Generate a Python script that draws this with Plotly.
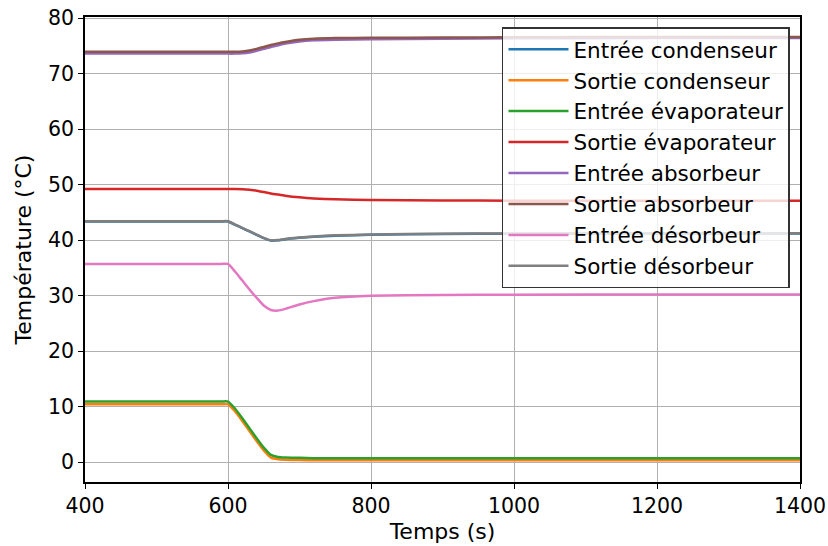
import plotly.graph_objects as go

t = [400, 500, 590, 600, 610, 620, 630, 640, 650, 660, 670, 680, 700, 720, 750, 800, 900, 1000, 1200, 1400]

entree_condenseur = [43.35, 43.35, 43.35, 43.35, 42.75, 42.15, 41.55, 40.95, 40.35, 39.9, 39.95, 40.15, 40.4, 40.6, 40.8, 40.95, 41.1, 41.15, 41.2, 41.2]
sortie_condenseur = [10.4, 10.4, 10.4, 10.4, 9.1, 7.4, 5.6, 3.8, 2.1, 0.8, 0.5, 0.4, 0.35, 0.3, 0.3, 0.3, 0.3, 0.3, 0.3, 0.3]
entree_evaporateur = [10.9, 10.9, 10.9, 10.9, 9.6, 7.9, 6.1, 4.3, 2.6, 1.3, 0.9, 0.8, 0.75, 0.7, 0.7, 0.7, 0.7, 0.7, 0.7, 0.7]
sortie_evaporateur = [49.2, 49.2, 49.2, 49.2, 49.2, 49.15, 49.05, 48.9, 48.65, 48.4, 48.2, 48.0, 47.7, 47.5, 47.35, 47.2, 47.15, 47.1, 47.1, 47.1]
entree_absorbeur = [73.6, 73.6, 73.6, 73.6, 73.6, 73.65, 73.8, 74.1, 74.45, 74.8, 75.1, 75.4, 75.8, 76.0, 76.1, 76.2, 76.3, 76.35, 76.4, 76.4]
sortie_absorbeur = [73.95, 73.95, 73.95, 73.95, 73.95, 74.0, 74.15, 74.45, 74.8, 75.15, 75.45, 75.7, 76.1, 76.3, 76.4, 76.45, 76.5, 76.55, 76.6, 76.6]
entree_desorbeur = [35.7, 35.7, 35.7, 35.7, 34.3, 32.7, 31.1, 29.6, 28.2, 27.4, 27.3, 27.6, 28.4, 29.0, 29.6, 29.95, 30.1, 30.15, 30.2, 30.2]
sortie_desorbeur = [43.4, 43.4, 43.4, 43.4, 42.8, 42.2, 41.6, 41.0, 40.4, 39.95, 40.0, 40.2, 40.45, 40.65, 40.85, 41.0, 41.15, 41.2, 41.25, 41.25]

names = ["Entrée condenseur", "Sortie condenseur", "Entrée évaporateur", "Sortie évaporateur",
         "Entrée absorbeur", "Sortie absorbeur", "Entrée désorbeur", "Sortie désorbeur"]
series = [entree_condenseur, sortie_condenseur, entree_evaporateur, sortie_evaporateur,
          entree_absorbeur, sortie_absorbeur, entree_desorbeur, sortie_desorbeur]
colors = ["#1f77b4", "#ff7f0e", "#2ca02c", "#d62728", "#9467bd", "#8c564b", "#e377c2", "#7f7f7f"]

fig = go.Figure()
for i, (n, s, c) in enumerate(zip(names, series, colors)):
    fig.add_trace(go.Scatter(x=t, y=s, name=n, mode="lines",
                             line=dict(color=c, width=2.5, shape="spline", smoothing=0.5),
                             legendgroup=f"g{i}"))

fig.update_layout(
    width=828, height=546,
    margin=dict(l=85, r=28, t=17, b=64, autoexpand=False),
    paper_bgcolor="white", plot_bgcolor="white",
    font=dict(family="DejaVu Sans", size=18, color="black"),
    showlegend=True,
    legend=dict(x=0.986, y=0.978, xanchor="right", yanchor="top",
                bgcolor="rgba(255,255,255,0.8)", bordercolor="#333333", borderwidth=1.5,
                font=dict(size=21.5), tracegroupgap=0, itemwidth=60),
    xaxis=dict(range=[400, 1400], tickvals=[400, 600, 800, 1000, 1200, 1400],
               title=dict(text="Temps (s)", standoff=6), automargin=False,
               ticklabeloverflow="allow", tickfont=dict(size=20.5),
               showgrid=True, gridcolor="#b0b0b0", gridwidth=1.2,
               showline=True, linecolor="black", linewidth=1.5, mirror=True,
               ticks="outside", ticklen=5, tickcolor="black", zeroline=False),
    yaxis=dict(range=[-3.6, 80.2], tickvals=[0, 10, 20, 30, 40, 50, 60, 70, 80],
               title=dict(text="Température (°C)", standoff=10), automargin=False,
               ticklabeloverflow="allow", tickfont=dict(size=20.5),
               showgrid=True, gridcolor="#b0b0b0", gridwidth=1.2,
               showline=True, linecolor="black", linewidth=1.5, mirror=True,
               ticks="outside", ticklen=5, tickcolor="black", zeroline=False),
)

fig.write_html("out.html", config={"displayModeBar": False},
               post_script="document.body.style.margin='0';document.body.style.overflow='hidden';")
